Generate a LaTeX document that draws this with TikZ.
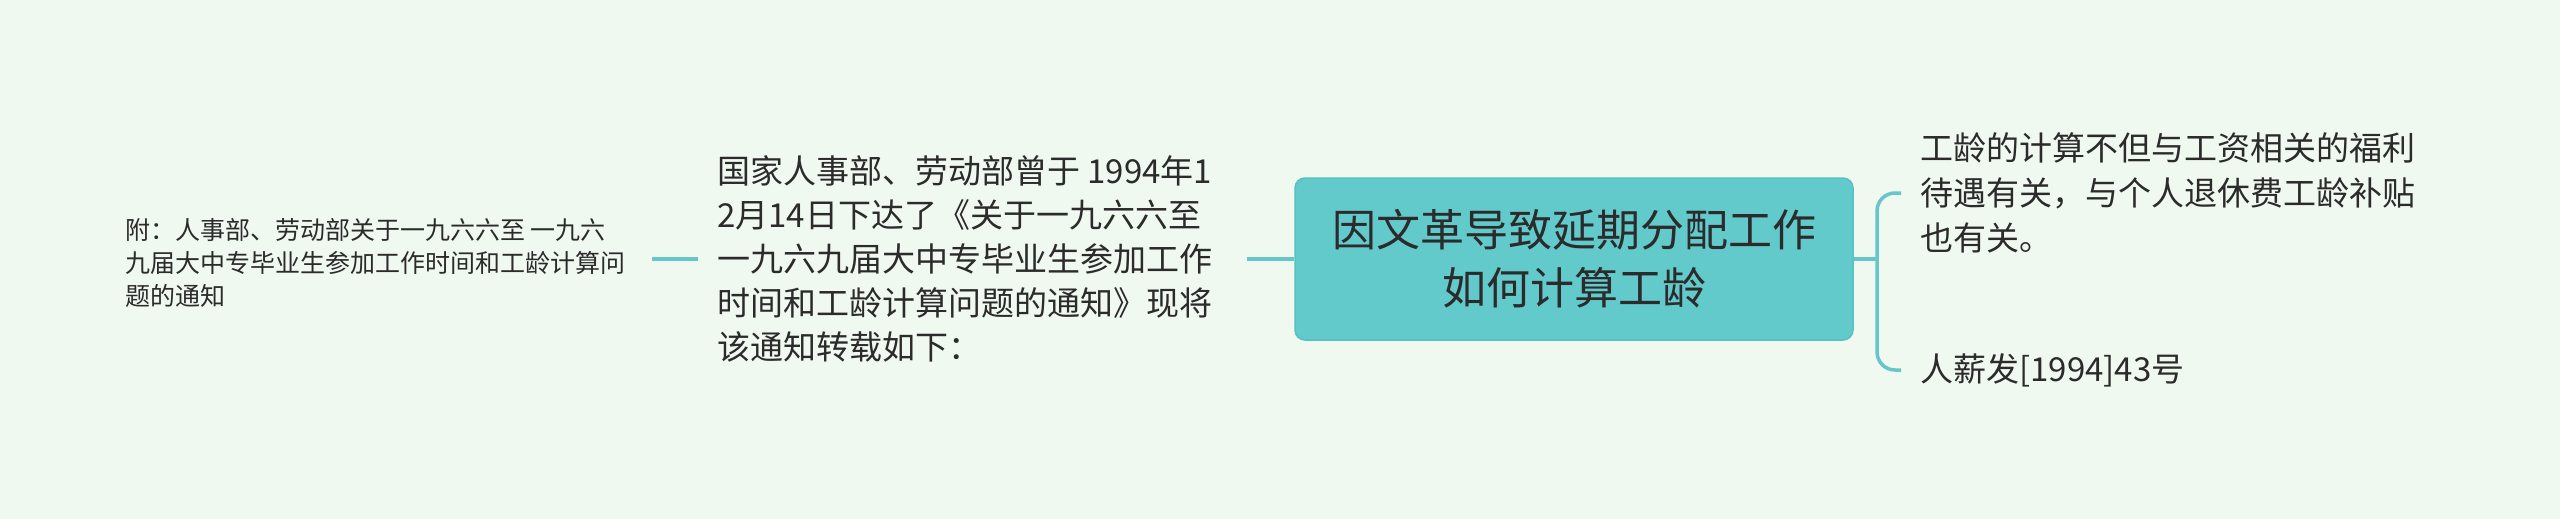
\documentclass[tikz,border=0pt]{standalone}
\usepackage{fontspec}
\setmainfont{Noto Sans CJK SC}
\definecolor{bg}{HTML}{F0F9F0}
\definecolor{boxfill}{HTML}{63CACC}
\definecolor{boxline}{HTML}{57C0C3}
\definecolor{conn}{HTML}{67C6CA}
\definecolor{txt}{HTML}{2B2B2B}
\tikzset{
  leaf/.style={inner sep=0pt, anchor=west, align=left, text=txt},
  mainbox/.style={draw=boxline, line width=1.5pt, fill=boxfill, rounded corners=10pt,
    minimum width=558pt, minimum height=162pt, align=center, text=txt, inner sep=0pt,
    font=\fontsize{44}{58}\selectfont},
  link/.style={draw=conn, line width=3.5pt},
}
\begin{document}
\begin{tikzpicture}[x=1pt,y=-1pt]
\fill[bg] (0,0) rectangle (2560,519);
\useasboundingbox (0,0) rectangle (2560,519);

\node[mainbox] (C) at (1574,259) {因文革导致延期分配工作\\如何计算工龄};

\node[leaf, font=\fontsize{33}{44}\selectfont] (M) at (717,259)
  {国家人事部、劳动部曾于 1994年1\\2月14日下达了《关于一九六六至\\一九六九届大中专毕业生参加工作\\时间和工龄计算问题的通知》现将\\该通知转载如下：};

\node[leaf, font=\fontsize{25}{33}\selectfont] (L) at (125,263)
  {附：人事部、劳动部关于一九六六至 一九六\\九届大中专毕业生参加工作时间和工龄计算问\\题的通知};

\node[leaf, font=\fontsize{33}{45}\selectfont] (R1) at (1920,193)
  {工龄的计算不但与工资相关的福利\\待遇有关，与个人退休费工龄补贴\\也有关。};

\node[leaf, font=\fontsize{33}{45}\selectfont] (R2) at (1920,370) {人薪发[1994]43号};

\coordinate (J) at (1877,259);
\coordinate (a1) at ([xshift=-19pt]R1.west);
\coordinate (a2) at ([xshift=-19pt]R2.west);
\coordinate (l1) at (652,259);
\coordinate (l2) at (698,259);
\coordinate (m1) at (1247,259);

\draw[link] (l1) -- (l2);
\draw[link] (m1) -- (C.west |- m1);
\draw[link] (C.east |- J) -- (J);
\draw[link, rounded corners=18pt] (a1) -| (J) |- (a2);
\end{tikzpicture}
\end{document}
